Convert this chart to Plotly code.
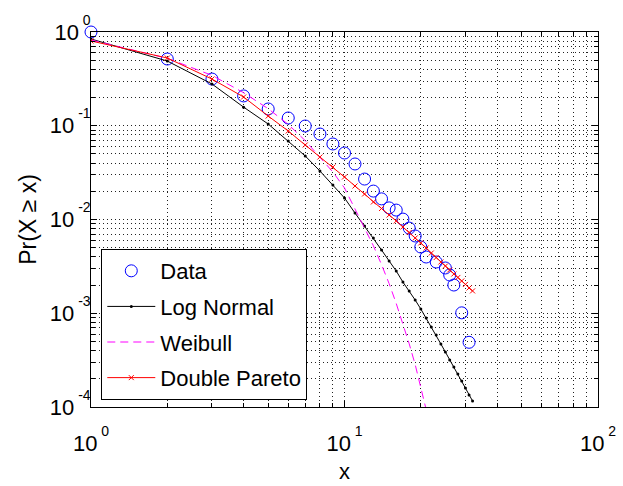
import plotly.graph_objects as go

# Empirical CCDF points
data_x = [1, 2, 3, 4, 5, 6, 7, 8, 9, 10, 11, 12, 13, 14, 15, 16, 17, 18, 19, 20,
          21, 23, 25, 26, 27, 29, 31]
data_y = [1.0, 0.515, 0.315, 0.208, 0.151, 0.121, 0.0994, 0.0816, 0.0639, 0.0512,
          0.0391, 0.0270, 0.0201, 0.0166, 0.0133, 0.0126, 0.0101, 0.0081, 0.00667,
          0.00509, 0.00398, 0.00352, 0.00304, 0.00256, 0.0020, 0.00101, 0.00049]

# Fitted model curves
model_x = list(range(1, 33))
lognormal_y = [0.842, 0.490, 0.279, 0.158, 0.1044, 0.0688, 0.0476, 0.0329, 0.0233,
               0.01696, 0.01173, 0.00852, 0.00635, 0.00473, 0.00361, 0.00282,
               0.00215, 0.00173, 0.001385, 0.00111, 0.00089, 0.000713, 0.000586,
               0.00047, 0.000386, 0.000317, 0.000267, 0.000225, 0.000189,
               0.000159, 0.000134, 0.000116]
weibull_x = list(range(1, 23))
weibull_y = [0.822, 0.524, 0.345, 0.225, 0.152, 0.1034, 0.0694, 0.0464, 0.0321,
             0.0217, 0.01294, 0.00828, 0.00525, 0.00330, 0.00207, 0.00127,
             0.000775, 0.000472, 0.000284, 0.000167, 0.0000969, 0.0000559]
dpareto_y = [0.802, 0.528, 0.315, 0.2026, 0.127, 0.0879, 0.0623, 0.0464, 0.0363,
             0.0284, 0.02277, 0.01871, 0.01537, 0.0131, 0.01117, 0.00964, 0.00832,
             0.00727, 0.00635, 0.00562, 0.00497, 0.00439, 0.00393, 0.00352,
             0.00319, 0.00289, 0.00262, 0.00241, 0.00221, 0.00203, 0.00186,
             0.00173]

x_ticks = [1, 10, 100]
x_exps = ["0", "1", "2"]
y_ticks = [1e-4, 1e-3, 1e-2, 1e-1, 1]
y_exps = ["-4", "-3", "-2", "-1", "0"]
x_minor = [2, 3, 4, 5, 6, 7, 8, 9, 20, 30, 40, 50, 60, 70, 80, 90]
y_minor = [m * 10.0 ** e for e in (-4, -3, -2, -1) for m in range(2, 10)]

FONT = "Liberation Sans, Arial, sans-serif"
SUP = "<span style='font-size:14px;baseline-shift:15px'> {}</span>"


def power_label(e):
    return "10" + SUP.format(e)


fig = go.Figure()
fig.add_trace(go.Scatter(
    x=data_x, y=data_y, mode="markers", name="Data", legendgroup="a",
    cliponaxis=False,
    marker=dict(symbol="circle-open", size=12, color="#0000ff",
                line=dict(width=1, color="#0000ff"))))
fig.add_trace(go.Scatter(
    x=model_x, y=lognormal_y, mode="lines+markers", name="Log Normal",
    legendgroup="b",
    line=dict(color="black", width=1),
    marker=dict(symbol="circle", size=3, color="black")))
fig.add_trace(go.Scatter(
    x=weibull_x, y=weibull_y, mode="lines", name="Weibull", legendgroup="c",
    line=dict(color="#ff00ff", width=1, dash="8px,5px")))
fig.add_trace(go.Scatter(
    x=model_x, y=dpareto_y, mode="lines+markers", name="Double Pareto",
    legendgroup="d",
    line=dict(color="#ff0000", width=1),
    marker=dict(symbol="x-thin", size=5, color="#ff0000",
                line=dict(width=1, color="#ff0000"))))

grid_dash = "1px,3px"
common = dict(
    showline=True, linecolor="black", linewidth=1, mirror="allticks",
    ticks="inside", ticklen=6, tickcolor="black",
    showgrid=True, gridcolor="#222222", gridwidth=1, griddash=grid_dash,
    zeroline=False, automargin=False,
    tickfont=dict(family=FONT, size=22, color="black"),
)

fig.update_xaxes(
    type="log", range=[0, 2], tickmode="array", tickvals=x_ticks,
    ticktext=[power_label(e) for e in x_exps], ticklabelstandoff=17,
    minor=dict(tickmode="array", tickvals=x_minor, ticks="inside", ticklen=4,
               tickcolor="black", showgrid=True, gridcolor="#222222",
               gridwidth=1, griddash=grid_dash),
    title=dict(text="x", font=dict(family=FONT, size=22, color="black"),
               standoff=8),
    **common)
fig.update_yaxes(
    type="log", range=[-4, 0], tickmode="array", tickvals=y_ticks,
    ticktext=[power_label(e) for e in y_exps], ticklabelstandoff=-5,
    minor=dict(tickmode="array", tickvals=y_minor, ticks="inside", ticklen=4,
               tickcolor="black", showgrid=True, gridcolor="#222222",
               gridwidth=1, griddash=grid_dash),
    title=dict(text="Pr(X ≥ x)", font=dict(family=FONT, size=23, color="black"),
               standoff=6),
    **common)

fig.update_layout(
    width=623, height=486,
    margin=dict(l=91, r=25, t=32, b=79),
    paper_bgcolor="white", plot_bgcolor="white",
    showlegend=True,
    legend=dict(x=0.0203, y=0.4213, xanchor="left", yanchor="top",
                bgcolor="white", bordercolor="black", borderwidth=1,
                font=dict(family=FONT, size=22, color="black"),
                traceorder="grouped", tracegroupgap=4, itemwidth=48),
    font=dict(family=FONT, size=22, color="black"),
)

fig.write_html("out.html")
